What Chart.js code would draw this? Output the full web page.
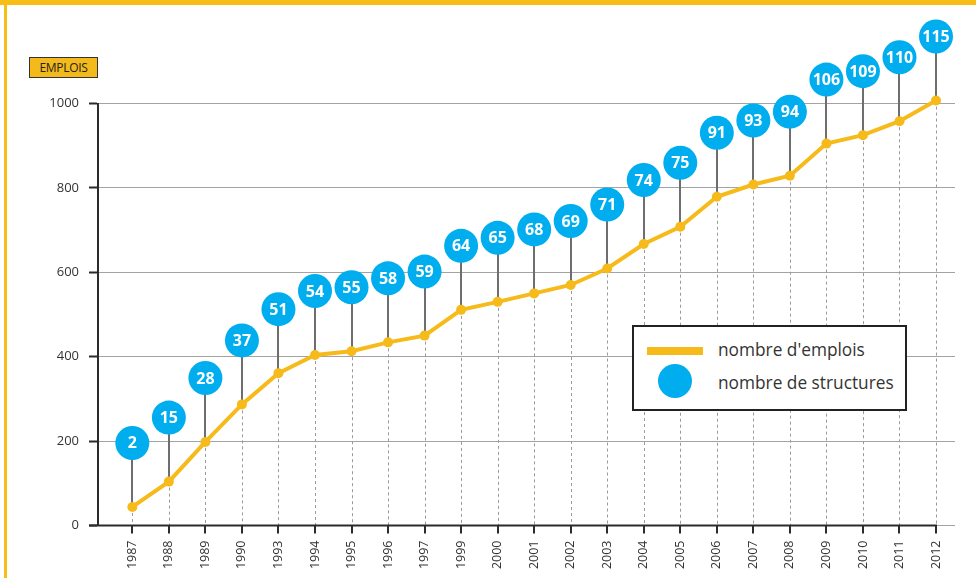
<!DOCTYPE html>
<html>
<head>
<meta charset="utf-8">
<script src="https://cdn.jsdelivr.net/npm/chart.js@4"></script>
<style>
  html, body { margin: 0; padding: 0; background: #fff; }
  #wrap { position: relative; width: 976px; height: 578px; overflow: hidden; font-family: "Open Sans", sans-serif; }
  #topbar { position: absolute; left: 0; top: 0; width: 976px; height: 5px; background: #F6BE17; }
  #leftbar { position: absolute; left: 4px; top: 0; width: 3px; height: 578px; background: #F6BE17; }
  #unit { position: absolute; left: 29px; top: 57px; width: 67px; height: 19px; background: #F4B91A; border: 1px solid #333;
          font-size: 12px; line-height: 19px; text-align: center; color: #222; letter-spacing: -0.3px; }
  #legend { position: absolute; left: 632px; top: 325px; width: 271px; height: 82px; background: #fff; border: 2px solid #222; }
  .lg { position: absolute; font-size: 17.3px; color: #333; white-space: nowrap; }
  #lgLine { position: absolute; left: 13px; top: 20px; width: 56px; height: 8px; background: #F6BB1A; }
  #lgDot { position: absolute; left: 24px; top: 37px; width: 34px; height: 34px; border-radius: 50%; background: #00AEEF; }
  canvas { position: absolute; left: 0; top: 0; }
</style>
</head>
<body>
<div id="wrap">
  <canvas id="chart" width="976" height="578"></canvas>
  <div id="topbar"></div>
  <div id="leftbar"></div>
  <div id="unit">EMPLOIS</div>
  <div id="legend">
    <div id="lgLine"></div>
    <div class="lg" style="left:84px;top:11px;">nombre d'emplois</div>
    <div id="lgDot"></div>
    <div class="lg" style="left:84px;top:44px;">nombre de structures</div>
  </div>
</div>
<script>
const years = ['1987', '1988', '1989', '1990', '1993', '1994', '1995', '1996', '1997', '1999', '2000', '2001',
  '2002', '2003', '2004', '2005', '2006', '2007', '2008', '2009', '2010', '2011', '2012'];
const emplois = [44, 104, 198, 287, 361, 404, 413, 434, 450, 511, 530, 550,
  570, 609, 667, 708, 779, 808, 829, 905, 925, 958, 1007];
const structures = [2, 15, 28, 37, 51, 54, 55, 58, 59, 64, 65, 68,
  69, 71, 74, 75, 91, 93, 94, 106, 109, 110, 115];
const yTicks = [0, 200, 400, 600, 800, 1000];

const YELLOW = '#F6BB1A';
const BLUE = '#00AEEF';
const BUBBLE_R = 17;
const BUBBLE_LIFT = 64;

// stems, dashed drop lines, x axis line and the numbered bubbles
const markers = {
  id: 'markers',
  beforeDatasetsDraw(chart) {
    const { ctx, scales: { x, y } } = chart;
    const pts = chart.getDatasetMeta(0).data;
    const base = y.getPixelForValue(0);
    ctx.save();
    ctx.strokeStyle = '#9a9a9a';
    ctx.lineWidth = 1;
    ctx.setLineDash([3, 3]);
    pts.forEach(p => {
      ctx.beginPath();
      ctx.moveTo(Math.round(p.x) + 0.5, p.y);
      ctx.lineTo(Math.round(p.x) + 0.5, base);
      ctx.stroke();
    });
    ctx.setLineDash([]);
    ctx.strokeStyle = '#6e6e6e';
    ctx.lineWidth = 2;
    pts.forEach(p => {
      ctx.beginPath();
      ctx.moveTo(Math.round(p.x), p.y - BUBBLE_LIFT);
      ctx.lineTo(Math.round(p.x), p.y);
      ctx.stroke();
    });
    // x axis line with ticks
    ctx.strokeStyle = '#2b2b2b';
    ctx.lineWidth = 2;
    ctx.beginPath();
    ctx.moveTo(x.left - 9, base);
    ctx.lineTo(x.getPixelForValue(years.length - 1) + 1, base);
    ctx.stroke();
    years.forEach((_, i) => {
      const px = Math.round(x.getPixelForValue(i));
      ctx.beginPath();
      ctx.moveTo(px, base);
      ctx.lineTo(px, base + 8);
      ctx.stroke();
    });
    ctx.restore();
  },
  afterDatasetsDraw(chart) {
    const { ctx } = chart;
    const pts = chart.getDatasetMeta(0).data;
    ctx.save();
    ctx.textAlign = 'center';
    ctx.textBaseline = 'middle';
    ctx.font = 'bold 16px "Open Sans"';
    pts.forEach((p, i) => {
      const cy = p.y - BUBBLE_LIFT;
      ctx.fillStyle = BLUE;
      ctx.beginPath();
      ctx.arc(p.x, cy, BUBBLE_R, 0, Math.PI * 2);
      ctx.fill();
      ctx.fillStyle = '#fff';
      ctx.fillText(String(structures[i]), p.x, cy + 1);
    });
    ctx.restore();
  }
};

const ctx = document.getElementById('chart').getContext('2d');

new Chart(ctx, {
  type: 'line',
  data: {
    datasets: [{
      label: "nombre d'emplois",
      data: emplois.map((v, i) => ({ x: i, y: v })),
      borderColor: YELLOW,
      backgroundColor: YELLOW,
      borderWidth: 4,
      pointRadius: 5,
      pointHoverRadius: 5,
      pointBackgroundColor: YELLOW,
      pointBorderWidth: 0,
      tension: 0,
      clip: false
    }]
  },
  options: {
    responsive: false,
    animation: false,
    events: [],
    layout: { padding: { left: 0, top: 103.5, right: 21, bottom: 0 } },
    plugins: { legend: { display: false }, tooltip: { enabled: false } },
    scales: {
      x: {
        type: 'linear',
        min: -0.94,
        max: 22.52,
        afterFit: s => { s.height = 52.5; },
        afterBuildTicks: s => { s.ticks = years.map((_, i) => ({ value: i })); },
        grid: { display: false, drawTicks: false },
        border: { display: false },
        ticks: {
          minRotation: 90,
          maxRotation: 90,
          autoSkip: false,
          padding: 15,
          color: '#333',
          font: { family: 'Open Sans', size: 12.5 },
          callback: v => years[v] ?? ''
        }
      },
      y: {
        min: 0,
        max: 1000,
        afterFit: s => { s.width = 98; },
        afterBuildTicks: s => { s.ticks = yTicks.map(v => ({ value: v })); },
        grid: {
          color: '#a3a3a3',
          lineWidth: 1,
          tickLength: 9,
          tickColor: '#2b2b2b',
          tickWidth: 2
        },
        border: { color: '#2b2b2b', width: 2 },
        ticks: {
          padding: 10,
          color: '#333',
          font: { family: 'Open Sans', size: 13 },
          callback: v => String(v)
        }
      }
    }
  },
  plugins: [markers]
});
</script>
</body>
</html>
